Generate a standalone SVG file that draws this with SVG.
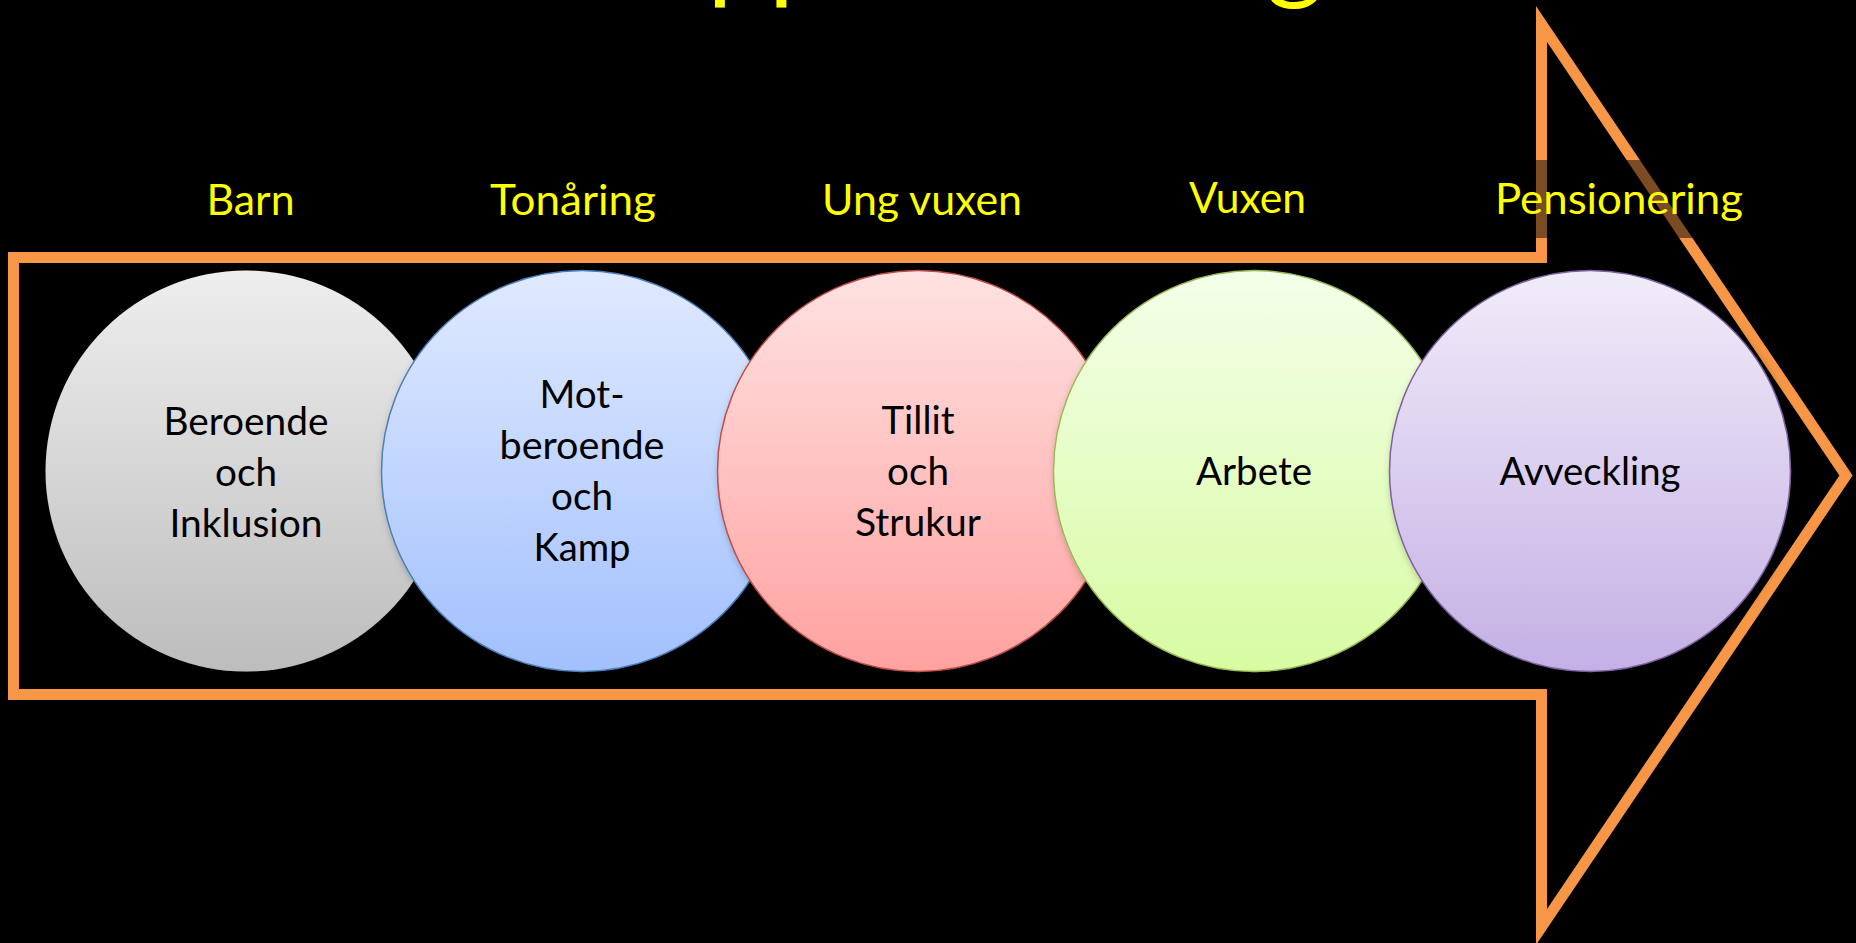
<svg xmlns="http://www.w3.org/2000/svg" width="1856" height="943" viewBox="0 0 1856 943">
<style>
.lbl{font-family:Lato,"Liberation Sans",sans-serif;font-size:42px;fill:#FFFF00;text-anchor:middle}
.ct{font-family:Lato,"Liberation Sans",sans-serif;font-size:38px;fill:#000000;text-anchor:middle}
.title{font-family:Lato,"Liberation Sans",sans-serif;font-size:106px;fill:#FFFF00;text-anchor:middle}
.arrow{fill:none;stroke:#F79646;stroke-width:11;stroke-miterlimit:10}
</style>
<defs>
<linearGradient id="gGray" x1="0" y1="0" x2="0" y2="1"><stop offset="0" stop-color="#EEEEEE"/><stop offset="1" stop-color="#BDBDBD"/></linearGradient>
<linearGradient id="gBlue" x1="0" y1="0" x2="0" y2="1"><stop offset="0" stop-color="#E0EAFF"/><stop offset="1" stop-color="#A2C0FD"/></linearGradient>
<linearGradient id="gRed" x1="0" y1="0" x2="0" y2="1"><stop offset="0" stop-color="#FFE2E2"/><stop offset="1" stop-color="#FFA2A0"/></linearGradient>
<linearGradient id="gGreen" x1="0" y1="0" x2="0" y2="1"><stop offset="0" stop-color="#F4FFE9"/><stop offset="1" stop-color="#D8FBA2"/></linearGradient>
<linearGradient id="gPurple" x1="0" y1="0" x2="0" y2="1"><stop offset="0" stop-color="#F1ECF9"/><stop offset="1" stop-color="#C4B0E5"/></linearGradient>
<filter id="sh" x="-10%" y="-10%" width="125%" height="125%"><feDropShadow dx="3" dy="3" stdDeviation="4" flood-color="#000" flood-opacity="0.35"/></filter>
</defs>
<rect width="1856" height="943" fill="#000000"/>
<g id="title"><text class="title" x="925" y="-11" textLength="797" lengthAdjust="spacingAndGlyphs">Grupputveckling</text></g>
<g id="connectors">
<path id="arrow" class="arrow" d="M13.5,257.5 H1541.5 V24 L1846,475.5 L1541.5,927 V694.5 H13.5 Z"/>
</g>
<g id="node-barn">
<circle cx="246" cy="471" r="200.5" fill="url(#gGray)" filter="url(#sh)"/>
<text class="ct" x="246" y="435" textLength="165" lengthAdjust="spacingAndGlyphs">Beroende</text>
<text class="ct" x="246" y="486" textLength="62" lengthAdjust="spacingAndGlyphs">och</text>
<text class="ct" x="246" y="537" textLength="153" lengthAdjust="spacingAndGlyphs">Inklusion</text>
</g>
<g id="node-tonaring">
<circle cx="582" cy="471" r="200.5" fill="url(#gBlue)" stroke="#4A7EBB" stroke-width="1.5" filter="url(#sh)"/>
<text class="ct" x="582" y="408" textLength="85" lengthAdjust="spacingAndGlyphs">Mot-</text>
<text class="ct" x="582" y="459" textLength="165" lengthAdjust="spacingAndGlyphs">beroende</text>
<text class="ct" x="582" y="510" textLength="62" lengthAdjust="spacingAndGlyphs">och</text>
<text class="ct" x="582" y="561" textLength="97" lengthAdjust="spacingAndGlyphs">Kamp</text>
</g>
<g id="node-ungvuxen">
<circle cx="918" cy="471" r="200.5" fill="url(#gRed)" stroke="#BE4B48" stroke-width="1.5" filter="url(#sh)"/>
<text class="ct" x="918" y="434" textLength="73" lengthAdjust="spacingAndGlyphs">Tillit</text>
<text class="ct" x="918" y="485" textLength="62" lengthAdjust="spacingAndGlyphs">och</text>
<text class="ct" x="918" y="536" textLength="126" lengthAdjust="spacingAndGlyphs">Strukur</text>
</g>
<g id="node-vuxen">
<circle cx="1254" cy="471" r="200.5" fill="url(#gGreen)" stroke="#98B954" stroke-width="1.5" filter="url(#sh)"/>
<text class="ct" x="1254" y="485" textLength="116" lengthAdjust="spacingAndGlyphs">Arbete</text>
</g>
<g id="node-pension">
<circle cx="1590" cy="471" r="200.5" fill="url(#gPurple)" stroke="#7D60A0" stroke-width="1.5" filter="url(#sh)"/>
<text class="ct" x="1590" y="485" textLength="181" lengthAdjust="spacingAndGlyphs">Avveckling</text>
</g>
<g id="labels">
<text class="lbl" x="250.5" y="215" textLength="88" lengthAdjust="spacingAndGlyphs">Barn</text>
<text class="lbl" x="573" y="215" textLength="166" lengthAdjust="spacingAndGlyphs">Tonåring</text>
<text class="lbl" x="922" y="215" textLength="200" lengthAdjust="spacingAndGlyphs">Ung vuxen</text>
<text class="lbl" x="1247.5" y="212.5" textLength="117" lengthAdjust="spacingAndGlyphs">Vuxen</text>
<rect x="1470" y="160" width="290" height="78" fill="#000000" fill-opacity="0.5"/>
<text class="lbl" x="1619" y="214" textLength="248" lengthAdjust="spacingAndGlyphs">Pensionering</text>
</g>
</svg>
